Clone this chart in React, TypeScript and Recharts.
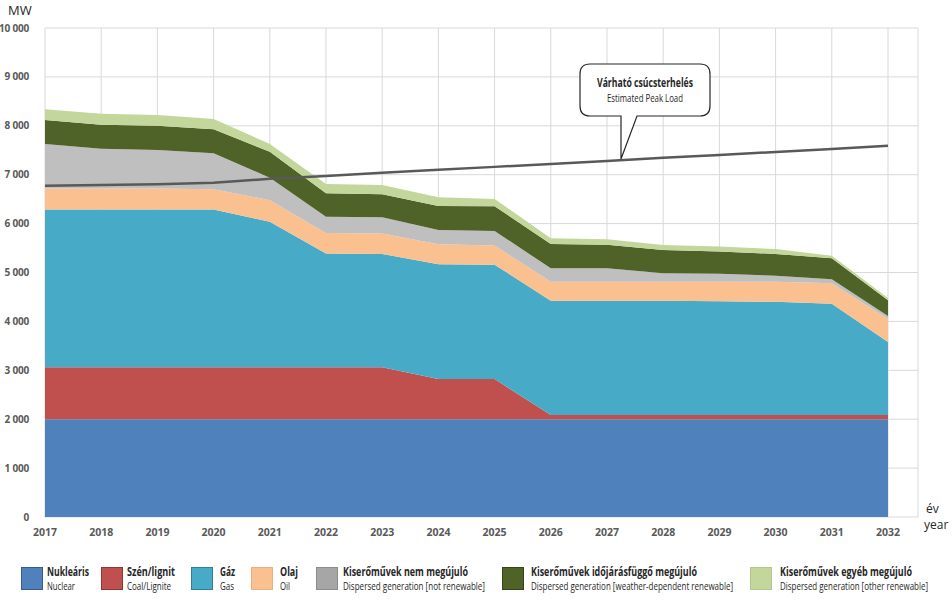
import React from 'react';
import { ComposedChart, Area, Line, XAxis, YAxis, CartesianGrid } from 'recharts';

const years = [2017, 2018, 2019, 2020, 2021, 2022, 2023, 2024, 2025, 2026, 2027, 2028, 2029, 2030, 2031, 2032];
const nuclear = [2000, 2000, 2000, 2000, 2000, 2000, 2000, 2000, 2000, 2000, 2000, 2000, 2000, 2000, 2000, 2000];
const coal = [1060, 1060, 1060, 1060, 1060, 1060, 1060, 820, 820, 85, 85, 85, 85, 85, 85, 85];
const gas = [3230, 3230, 3230, 3230, 2980, 2330, 2320, 2350, 2340, 2335, 2335, 2335, 2325, 2315, 2275, 1495];
const oil = [430, 430, 430, 410, 440, 420, 420, 410, 390, 390, 390, 390, 400, 410, 420, 470];
const dispNotRenew = [910, 810, 785, 740, 460, 330, 330, 290, 300, 275, 275, 175, 165, 125, 80, 60];
const dispWeather = [490, 490, 495, 490, 530, 480, 470, 490, 505, 500, 485, 475, 455, 445, 430, 320];
const dispOther = [220, 225, 220, 210, 160, 190, 190, 180, 150, 115, 110, 100, 100, 100, 55, 50];
const peakLoad = [6775, 6790, 6805, 6835, 6915, 6975, 7040, 7100, 7160, 7220, 7280, 7345, 7405, 7465, 7525, 7590];
const yTicks = [0, 1000, 2000, 3000, 4000, 5000, 6000, 7000, 8000, 9000, 10000];

const data = years.map((year, i) => ({
  year,
  nuclear: nuclear[i],
  coal: coal[i],
  gas: gas[i],
  oil: oil[i],
  dispNotRenew: dispNotRenew[i],
  dispWeather: dispWeather[i],
  dispOther: dispOther[i],
  peak: peakLoad[i],
}));

// legend: x of swatch, widths of the two text lines as seen in the reference
const series = [
  { key: 'nuclear', color: '#4f81bd', swatch: '#4f81bd', edge: '#385d8a', hu: 'Nukleáris', en: 'Nuclear', x: 21, w1: 42, w2: 28 },
  { key: 'coal', color: '#c0504d', swatch: '#c0504d', edge: '#8c3836', hu: 'Szén/lignit', en: 'Coal/Lignite', x: 101, w1: 48, w2: 44 },
  { key: 'gas', color: '#47aac6', swatch: '#47aac6', edge: '#357d91', hu: 'Gáz', en: 'Gas', x: 191, w1: 15, w2: 14, tx: 220 },
  { key: 'oil', color: '#fac090', swatch: '#fac090', edge: '#e8b080', hu: 'Olaj', en: 'Oil', x: 251, w1: 18, w2: 10, tx: 280 },
  { key: 'dispNotRenew', color: '#bfbfbf', swatch: '#a6a6a6', edge: '#8c8c8c', hu: 'Kiserőművek nem megújuló', en: 'Dispersed generation [not renewable]', x: 316, w1: 125, w2: 142, tx: 343 },
  { key: 'dispWeather', color: '#4f6228', swatch: '#4f6228', edge: '#36441b', hu: 'Kiserőművek időjárásfüggő megújuló', en: 'Dispersed generation [weather-dependent renewable]', x: 502, w1: 166, w2: 202, tx: 531 },
  { key: 'dispOther', color: '#c3d69b', swatch: '#c3d69b', edge: '#b3c68b', hu: 'Kiserőművek egyéb megújuló', en: 'Dispersed generation [other renewable]', x: 750, w1: 132, w2: 148, tx: 780 },
];

const font = '"Open Sans", sans-serif';
const xTickStyle = { fill: '#595959', fontSize: 10.5, fontWeight: 700, fontFamily: font };
const yTickStyle = { fill: '#595959', fontSize: 10, fontWeight: 700, fontFamily: font, letterSpacing: -0.2 };
const fmt = (v: number) => (v >= 1000 ? `${Math.floor(v / 1000)} ${String(v % 1000).padStart(3, '0')}` : String(v));

export default function App() {
  return (
    <div style={{ position: 'absolute', left: 0, top: 0, width: 952, height: 606, background: '#fff' }}>
      <ComposedChart width={952} height={606} data={data} margin={{ top: 28, right: 34, left: 0, bottom: 59 }}>
        <CartesianGrid stroke="#d9d9d9" strokeWidth={1} />
        <XAxis
          dataKey="year"
          type="number"
          domain={[2017, 2032.534]}
          ticks={years}
          allowDataOverflow
          axisLine={false}
          tickLine={false}
          tick={xTickStyle}
          tickMargin={6}
          height={30}
        />
        <YAxis
          domain={[0, 10000]}
          ticks={yTicks}
          tickFormatter={fmt}
          axisLine={false}
          tickLine={false}
          tick={yTickStyle}
          tickMargin={10}
          width={45}
        />
        {series.map((s) => (
          <Area
            key={s.key}
            type="linear"
            dataKey={s.key}
            stackId="cap"
            stroke="none"
            fill={s.color}
            fillOpacity={1}
            isAnimationActive={false}
          />
        ))}
        <Line type="linear" dataKey="peak" stroke="#595959" strokeWidth={2.5} dot={false} isAnimationActive={false} />
      </ComposedChart>

      <svg style={{ position: 'absolute', left: 0, top: 0 }} width={952} height={606}>
        {/* axis units */}
        <text x={8} y={15} style={{ fontFamily: font, fontSize: 13, fill: '#262626' }}>MW</text>
        <text x={926} y={513} style={{ fontFamily: font, fontSize: 12, fill: '#262626' }}>év</text>
        <text x={924} y={529} style={{ fontFamily: font, fontSize: 12, fill: '#262626' }}>year</text>

        {/* peak load callout */}
        <path
          d="M590 64 H700 Q710 64 710 74 V106 Q710 116 700 116 H637 L621 159 V116 H590 Q580 116 580 106 V74 Q580 64 590 64 Z"
          fill="#fff"
          stroke="#262626"
          strokeWidth={1.2}
        />
        <text x={597} y={87} textLength={96} lengthAdjust="spacingAndGlyphs" style={{ fontFamily: font, fontSize: 12, fontWeight: 700, fill: '#262626' }}>
          Várható csúcsterhelés
        </text>
        <text x={607} y={102} textLength={76} lengthAdjust="spacingAndGlyphs" style={{ fontFamily: font, fontSize: 10.5, fill: '#262626' }}>
          Estimated Peak Load
        </text>

        {/* legend */}
        {series.map((s) => {
          const tx = s.tx ?? s.x + 26;
          return (
            <g key={s.key}>
              <rect x={s.x + 0.5} y={567.5} width={21} height={22} fill={s.swatch} stroke={s.edge} strokeWidth={1} />
              <text x={tx} y={576} textLength={s.w1} lengthAdjust="spacingAndGlyphs" style={{ fontFamily: font, fontSize: 12, fontWeight: 700, fill: '#262626' }}>
                {s.hu}
              </text>
              <text x={tx} y={590} textLength={s.w2} lengthAdjust="spacingAndGlyphs" style={{ fontFamily: font, fontSize: 10.5, fill: '#262626' }}>
                {s.en}
              </text>
            </g>
          );
        })}
      </svg>
    </div>
  );
}
